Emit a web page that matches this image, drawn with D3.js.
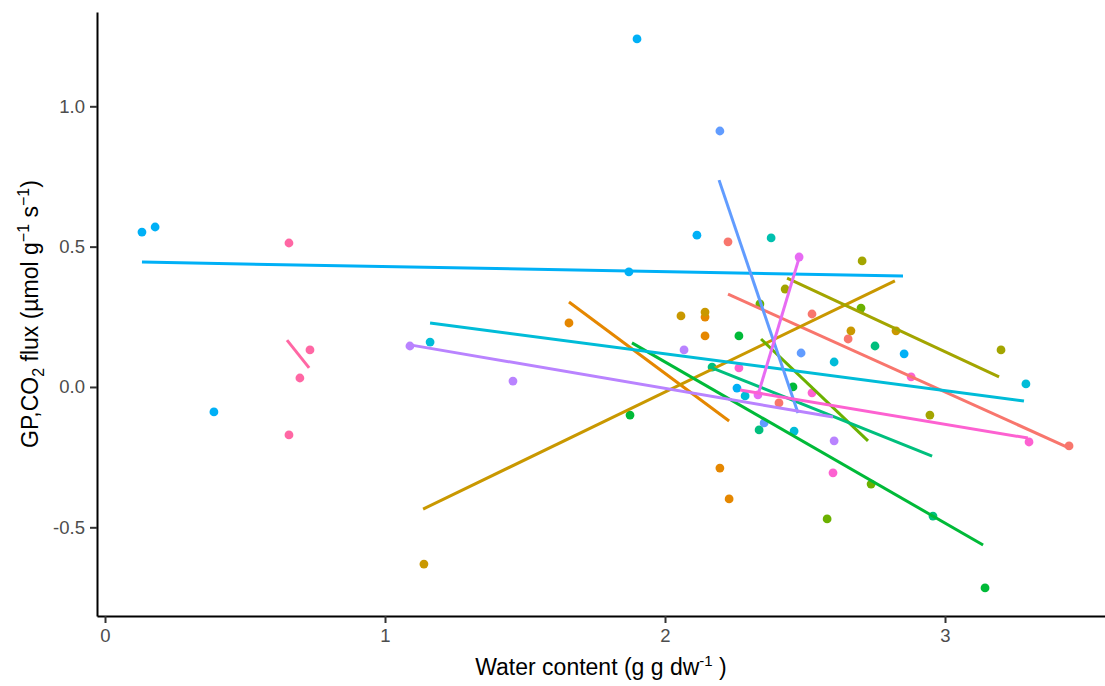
<!DOCTYPE html>
<html>
<head>
<meta charset="utf-8">
<title>GP CO2 flux vs water content</title>
<script src="https://d3js.org/d3.v7.min.js"></script>
<style>
    body { margin: 0; background: #ffffff; }
    svg { display: block; font-family: "Liberation Sans", Arial, sans-serif; }
    .tick text { fill: #4d4d4d; font-size: 18.5px; }
    .titulo { fill: #000000; font-size: 23px; }
</style>
</head>
<body>
<svg id="myChart" width="1105" height="686"></svg>
<script>
// colores por grupo (paleta hue de ggplot, 15 grupos)
const groupColors = ["#F8766D", "#E58700", "#C99800", "#A3A500", "#6BB100",
    "#00BA38", "#00BF7D", "#00C0AF", "#00BCD8", "#00B0F6",
    "#619CFF", "#B983FF", "#E76BF3", "#FD61D1", "#FF67A4"];

// puntos medidos: grupo, contenido de agua (g g dw-1), flujo GP CO2
const pointGroup = [
    0, 0, 0, 0, 0,
    1, 1, 1, 1, 1,
    2, 2, 2, 2, 2,
    3, 3, 3, 3,
    4, 4, 4, 4,
    5, 5, 5, 5,
    6, 6, 6, 6,
    7,
    8, 8, 8, 8, 8,
    9, 9, 9, 9, 9, 9, 9, 9,
    10, 10, 10,
    11, 11, 11, 11,
    12, 12,
    13, 13, 13, 13, 13,
    14, 14, 14, 14];
const waterContent = [
    2.225, 2.407, 2.525, 2.654, 3.443,
    1.657, 2.143, 2.143, 2.196, 2.229,
    1.139, 2.057, 2.143, 2.664, 2.825,
    2.429, 2.704, 2.946, 3.200,
    2.339, 2.700, 2.736, 2.579,
    1.875, 2.264, 2.457, 3.143,
    2.168, 2.336, 2.750, 2.957,
    2.379,
    1.161, 2.286, 2.461, 2.604, 3.289,
    0.132, 0.179, 0.389, 1.871, 1.900, 2.114, 2.257, 2.854,
    2.196, 2.354, 2.486,
    1.089, 1.457, 2.068, 2.604,
    2.332, 2.479,
    2.264, 2.525, 2.600, 2.879, 3.300,
    0.657, 0.657, 0.696, 0.732];
const gpFlux = [
    0.517, -0.057, 0.260, 0.171, -0.210,
    0.228, 0.249, 0.182, -0.289, -0.399,
    -0.631, 0.253, 0.267, 0.200, 0.200,
    0.349, 0.449, -0.100, 0.132,
    0.296, 0.281, -0.346, -0.470,
    -0.100, 0.182, 0.000, -0.716,
    0.071, -0.153, 0.146, -0.460,
    0.531,
    0.160, -0.032, -0.157, 0.089, 0.011,
    0.552, 0.570, -0.089, 0.410, 1.240, 0.541, -0.004, 0.118,
    0.912, -0.128, 0.121,
    0.146, 0.021, 0.132, -0.192,
    -0.028, 0.463,
    0.068, -0.021, -0.306, 0.036, -0.196,
    0.513, -0.171, 0.032, 0.132];

// rectas de regresion por grupo (extremos)
const fitGroup = [0, 1, 2, 3, 4, 5, 6, 8, 9, 10, 11, 12, 13, 14];
const fitX0 = [2.225, 1.657, 1.136, 2.436, 2.343, 1.882, 2.161, 1.161, 0.132, 2.193, 1.089, 2.332, 2.268, 0.650];
const fitY0 = [0.331, 0.303, -0.435, 0.388, 0.171, 0.157, 0.071, 0.228, 0.445, 0.737, 0.150, -0.028, -0.011, 0.167];
const fitX1 = [3.436, 2.229, 2.821, 3.193, 2.725, 3.136, 2.954, 3.282, 2.850, 2.475, 2.600, 2.479, 3.296, 0.729];
const fitY1 = [-0.214, -0.121, 0.378, 0.036, -0.192, -0.563, -0.246, -0.050, 0.395, -0.093, -0.107, 0.460, -0.182, 0.068];

const xTicks = [0, 1, 2, 3];
const yTicks = [-0.5, 0.0, 0.5, 1.0];

const svg = d3.select("#myChart");
const margin = { top: 12, right: 0, bottom: 70, left: 97 };
const width = +svg.attr("width");
const height = +svg.attr("height");

const x = d3.scaleLinear()
    .domain([-0.0286, 3.5714])
    .range([margin.left, width - margin.right]);

const y = d3.scaleLinear()
    .domain([-0.816, 1.336])
    .range([height - margin.bottom, margin.top]);

// puntos
svg.append("g")
    .selectAll("circle")
    .data(d3.range(waterContent.length))
    .join("circle")
    .attr("cx", i => x(waterContent[i]))
    .attr("cy", i => y(gpFlux[i]))
    .attr("r", 4.4)
    .attr("fill", i => groupColors[pointGroup[i]]);

// rectas lm
const line = d3.line().x(d => x(d[0])).y(d => y(d[1]));
svg.append("g")
    .selectAll("path")
    .data(d3.range(fitGroup.length))
    .join("path")
    .attr("fill", "none")
    .attr("stroke", i => groupColors[fitGroup[i]])
    .attr("stroke-width", 3)
    .attr("d", i => line([[fitX0[i], fitY0[i]], [fitX1[i], fitY1[i]]]));

// ejes
const ejeX = svg.append("g")
    .attr("transform", `translate(0,${height - margin.bottom})`)
    .call(d3.axisBottom(x).tickValues(xTicks).tickFormat(d => String(d))
        .tickSize(7).tickSizeOuter(0).tickPadding(6));

const ejeY = svg.append("g")
    .attr("transform", `translate(${margin.left},0)`)
    .call(d3.axisLeft(y).tickValues(yTicks).tickFormat(d => d.toFixed(1))
        .tickSize(7).tickSizeOuter(0).tickPadding(5));

[ejeX, ejeY].forEach(g => {
    g.select(".domain").attr("stroke", "#000").attr("stroke-width", 2);
    g.selectAll(".tick line").attr("stroke", "#333").attr("stroke-width", 2);
    g.selectAll(".tick text").attr("font-family", null).attr("font-size", null);
});

// titulo eje x
const tx = svg.append("text")
    .attr("class", "titulo")
    .attr("x", (margin.left + width - margin.right) / 2)
    .attr("y", 675)
    .attr("text-anchor", "middle");
tx.append("tspan").text("Water content (g g dw");
tx.append("tspan").attr("dy", -9).attr("font-size", "15px").text("-1");
tx.append("tspan").attr("dy", 9).text(" )");

// titulo eje y
const ty = svg.append("text")
    .attr("class", "titulo")
    .attr("transform", `translate(37.5,${(margin.top + height - margin.bottom) / 2}) rotate(-90)`)
    .attr("text-anchor", "middle");
ty.append("tspan").text("GP,CO");
ty.append("tspan").attr("dy", 6).attr("font-size", "16px").text("2");
ty.append("tspan").attr("dy", -6).text(" flux (µmol g");
ty.append("tspan").attr("dy", -9).attr("font-size", "16px").text("−1");
ty.append("tspan").attr("dy", 9).text(" s");
ty.append("tspan").attr("dy", -9).attr("font-size", "16px").text("−1");
ty.append("tspan").attr("dy", 9).text(")");
</script>
</body>
</html>
